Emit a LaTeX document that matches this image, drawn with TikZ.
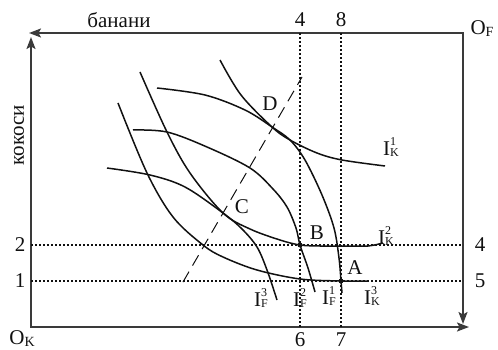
\documentclass[tikz,border=0pt]{standalone}
\usepackage{fontspec}
\setmainfont{Liberation Serif}
\usetikzlibrary{arrows.meta}
\definecolor{ink}{HTML}{111111}
\definecolor{axisgray}{HTML}{3A3A3A}
\newcommand{\curvelab}[2]{I\rlap{\raisebox{10pt}{\fontsize{12}{12}\selectfont #2}}\raisebox{-1pt}{\fontsize{12}{12}\selectfont #1}}
\newcommand{\originlab}[1]{O\raisebox{-2pt}{\fontsize{14}{14}\selectfont #1}}

\begin{document}
\begin{tikzpicture}[
    x=1pt, y=-1pt,
    >={Stealth[length=12pt,width=9pt,inset=2.5pt]},
    every node/.style={font=\fontsize{21}{24}\selectfont, text=ink, inner sep=1pt},
    axis/.style={<->, line width=1.8pt, draw=axisgray},
    guide/.style={line width=1.1pt, draw=ink, dash pattern=on 2pt off 2pt},
    contract/.style={line width=1pt, draw=ink, dash pattern=on 12pt off 7pt},
    indiff/.style={line width=1.5pt, draw=ink},
    dot/.style={circle, fill=ink, inner sep=0pt, minimum size=5pt},
]
\useasboundingbox (0,0) rectangle (498,350);

% --- Box origins and axis tips ---
\coordinate (Ok) at (31,327);
\coordinate (Of) at (463,33);
\coordinate (Ktip) at (31,37);
\coordinate (Kend) at (469,327);
\coordinate (Ftip) at (29,33);
\coordinate (Fend) at (463,324);

\draw[axis] (Ktip) -- (Ok) -- (Kend);
\draw[axis] (Ftip) -- (Of) -- (Fend);

% --- Axis and origin labels ---
\node (xban) at (119,20) {банани};
\node[rotate=90] (ykok) at (19,135) {кокоси};
\node (oK) at (22,339) {\originlab{K}};
\node (oF) at (482,29) {\originlab{F}};

% --- Quantity labels on the box ---
\node (t4) at (300,20) {4};
\node (t8) at (341,20) {8};
\node (b6) at (300,340) {6};
\node (b7) at (341,340) {7};
\node (l2) at (20,245) {2};
\node (l1) at (20,281) {1};
\node (r4) at (480,245) {4};
\node (r5) at (480,281) {5};

% --- Dotted guides across the box ---
\draw[guide] (t4 |- Of) -- (b6 |- Ok);
\draw[guide] (t8 |- Of) -- (b7 |- Ok);
\draw[guide] (l2 -| Ok) -- (r4 -| Of);
\draw[guide] (l1 -| Ok) -- (r5 -| Of);

% --- Allocation points ---
\coordinate (A) at (341,281);
\coordinate (B) at (300,245);
\coordinate (C) at (223,213);
\coordinate (D) at (272,127);

% --- Contract curve ---
\coordinate (cc0) at (183,282);
\coordinate (cc1) at (302,77);
\draw[contract] (cc0) -- (cc1);

% --- Indifference curves of K ---
\draw[indiff] plot[smooth, tension=0.55] coordinates {(220,60) (241,95) (D) (290,140) (317,153) (342,160) (385,166)};
\draw[indiff] plot[smooth, tension=0.55] coordinates {(140,72) (167,132) (190,173) (C) (250,229) (280,240) (B) (320,246) (345,246) (368,246) (383,243)};
\draw[indiff] plot[smooth, tension=0.55] coordinates {(118,103) (147,173) (173,217) (203,245) (223,257) (257,270) (300,279) (A) (368,281)};

% --- Indifference curves of F ---
\draw[indiff] plot[smooth, tension=0.55] coordinates {(157,88) (205,95) (245,110) (D) (290,140) (305,160) (322,195) (334,228) (339,258) (A) (342,293)};
\draw[indiff] plot[smooth, tension=0.55] coordinates {(133,130) (167,132) (207,147) (250,168) (273,189) (287,207) (296,228) (B) (308,268) (315,292)};
\draw[indiff] plot[smooth, tension=0.55] coordinates {(107,168) (150,175) (185,187) (C) (242,229) (257,247) (267,270) (277,300)};

\node[dot] (dotA) at (A) {};
\node[dot] (dotB) at (B) {};

% --- Point labels ---
\node (labA) at (355,268) {A};
\node (labB) at (317,233) {B};
\node (labC) at (242,207) {C};
\node (labD) at (270,104) {D};

% --- Curve labels ---
\node (ik1) at (391,147) {\curvelab{K}{1}};
\node (ik2) at (386,236) {\curvelab{K}{2}};
\node (ik3) at (372,296) {\curvelab{K}{3}};
\node (if3) at (261,298) {\curvelab{F}{3}};
\node (if2) at (300,298) {\curvelab{F}{2}};
\node (if1) at (329,296) {\curvelab{F}{1}};

\end{tikzpicture}
\end{document}
